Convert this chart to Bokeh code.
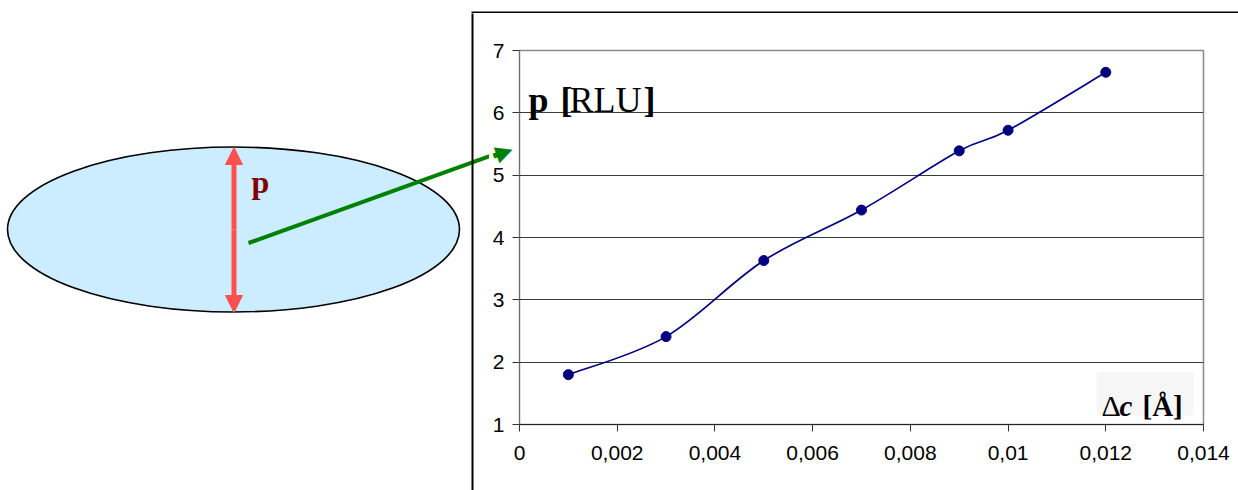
import numpy as np
from bokeh.plotting import figure
from bokeh.layouts import row, column
from bokeh.models import (Range1d, FixedTicker, CustomJSTickFormatter, Label,
                          BoxAnnotation, Arrow, NormalHead)
from bokeh.embed import file_html
from bokeh.resources import INLINE

# measured lattice change and resulting peak shift
dc = [0.001, 0.003, 0.005, 0.007, 0.009, 0.010, 0.012]
p_rlu = [1.80, 2.41, 3.63, 4.44, 5.39, 5.72, 6.65]

x_ticks = [0, 0.002, 0.004, 0.006, 0.008, 0.010, 0.012, 0.014]
y_ticks = [1, 2, 3, 4, 5, 6, 7]

W, H = 1238, 490
STRIP = 13          # height of the strip carrying the top edge of the chart box
SPLIT = 489         # x where the sketch panel ends and the chart panel starts
FL, FR, FT, FB = 519, 1203, 50, 424  # chart frame edges on the page
XMIN, XMAX, YMIN, YMAX = 0.0, 0.014, 1.0, 7.0

GREEN, RED = "#008000", "#FF5050"
ARROW_START, ARROW_TIP = (248.0, 242.5), (512.0, 147.3)


def px2x(px):
    return XMIN + (np.asarray(px, dtype=float) - FL) / (FR - FL) * (XMAX - XMIN)


def py2y(py):
    return YMIN + (FB - np.asarray(py, dtype=float)) / (FB - FT) * (YMAX - YMIN)


def bare(width, height, x_range, y_range):
    f = figure(width=width, height=height, output_backend="svg",
               toolbar_location=None, title=None, x_range=x_range, y_range=y_range,
               x_axis_location=None, y_axis_location=None,
               min_border=0, min_border_left=0, min_border_right=0,
               min_border_top=0, min_border_bottom=0, frame_align=False)
    f.grid.visible = False
    f.outline_line_color = None
    f.background_fill_color = "white"
    f.border_fill_color = "white"
    return f


# ---- top strip: upper edge of the chart box
strip = bare(W, STRIP, Range1d(0, W), Range1d(STRIP, 0))
strip.quad(left=[471], right=[W + 5], top=[11], bottom=[13],
           fill_color="black", line_color=None)

# ---- sketch of the crystal cross-section
sk = bare(SPLIT, H - STRIP, Range1d(0, SPLIT), Range1d(H, STRIP))
sk.ellipse(x=[233], y=[229], width=[452], height=[165],
           fill_color="#CCECFF", line_color="black", line_width=1.6)
sk.add_layout(Arrow(x_start=233.5, y_start=229, x_end=233.5, y_end=147,
                    line_color=RED, line_width=5,
                    end=NormalHead(size=17, fill_color=RED, line_color=RED)))
sk.add_layout(Arrow(x_start=233.5, y_start=229, x_end=233.5, y_end=312,
                    line_color=RED, line_width=5,
                    end=NormalHead(size=17, fill_color=RED, line_color=RED)))
sk.add_layout(Label(x=251, y=181, text="p", text_font="Liberation Serif",
                    text_font_size="32px", text_font_style="bold",
                    text_color="#800000", text_baseline="alphabetic"))
sk.segment(x0=[ARROW_START[0]], y0=[ARROW_START[1]],
           x1=[ARROW_TIP[0]], y1=[ARROW_TIP[1]], line_color=GREEN, line_width=4)
sk.segment(x0=[472], y0=[STRIP - 1], x1=[472], y1=[H + 5],
           line_color="black", line_width=2)

# ---- the chart
p = figure(width=W - SPLIT, height=H - STRIP, output_backend="svg",
           toolbar_location=None, title=None, frame_align=False,
           x_range=Range1d(XMIN, XMAX), y_range=Range1d(YMIN, YMAX),
           min_border_left=FL - SPLIT, min_border_right=W - FR,
           min_border_top=FT - STRIP, min_border_bottom=H - FB)
p.background_fill_color = "white"
p.border_fill_color = "white"
p.outline_line_color = "#8a8a8a"
p.outline_line_width = 1.5

p.xaxis.ticker = FixedTicker(ticks=x_ticks)
p.yaxis.ticker = FixedTicker(ticks=y_ticks)
p.xaxis.formatter = CustomJSTickFormatter(
    code="return tick.toFixed(3).replace(/\\.?0+$/, '').replace('.', ',');")
for ax in (p.xaxis, p.yaxis):
    ax.major_label_text_font = "Liberation Sans"
    ax.major_label_text_font_size = "21px"
    ax.major_label_text_color = "black"
    ax.major_tick_out = 7
    ax.major_tick_in = 0
    ax.minor_tick_line_color = None
    ax.major_tick_line_color = "#333333"
p.xaxis.axis_line_color = "#222222"
p.xaxis.major_label_standoff = 14
p.yaxis.axis_line_color = "#707070"
p.yaxis.major_label_standoff = 8
p.xgrid.grid_line_color = None
p.ygrid.ticker = FixedTicker(ticks=y_ticks)
p.ygrid.grid_line_color = "#3a3a3a"
p.ygrid.grid_line_width = 1

# smooth connecting curve (cubic Bezier segments through the points)
xs = np.array(dc)
ys = np.array(p_rlu)
n = len(xs)
x0, y0, x1, y1, cx0, cy0, cx1, cy1 = ([] for _ in range(8))
for i in range(n - 1):
    pm = max(i - 1, 0)
    pn = min(i + 2, n - 1)
    x0.append(xs[i]); y0.append(ys[i])
    x1.append(xs[i + 1]); y1.append(ys[i + 1])
    cx0.append(xs[i] + (xs[i + 1] - xs[pm]) / 6)
    cy0.append(ys[i] + (ys[i + 1] - ys[pm]) / 6)
    cx1.append(xs[i + 1] - (xs[pn] - xs[i]) / 6)
    cy1.append(ys[i + 1] - (ys[pn] - ys[i]) / 6)
p.bezier(x0=x0, y0=y0, x1=x1, y1=y1, cx0=cx0, cy0=cy0, cx1=cx1, cy1=cy1,
         line_color="#000080", line_width=1.7)
p.scatter(dc, p_rlu, size=10, marker="circle", fill_color="#000080",
          line_color="#000080")


def label(text, px, py, size, style="normal", color="black",
          font="Liberation Serif", place="center", align="left",
          baseline="alphabetic", angle=0.0):
    lab = Label(x=float(px2x(px)), y=float(py2y(py)), text=text,
                text_font=font, text_font_size=size,
                text_font_style=style, text_color=color, angle=angle,
                text_align=align, text_baseline=baseline)
    p.add_layout(lab, place)


# axis captions inside the plot
label("p", 528, 99, "36px", "bold")
label("[", 560, 99, "36px", "bold")
label("RLU", 569, 99, "36px")
label("]", 643, 99, "36px", "bold")

p.add_layout(BoxAnnotation(left=float(px2x(1096)), right=float(px2x(1193)),
                           top=float(py2y(372)), bottom=float(py2y(415)),
                           fill_color="#f6f6f6", fill_alpha=1, line_color=None))
label("\u0394", 1101, 405, "30px")
label("c", 1119, 405, "29px", "bold italic")
label("[\u00c5]", 1142, 405, "29px", "bold")

# head of the green pointer, which reaches into the chart's margin
d = np.array(ARROW_TIP) - np.array(ARROW_START)
d = d / np.linalg.norm(d)
ang = float(np.arctan2(-d[1], d[0]))
sx = SPLIT + 8.5
sy = ARROW_START[1] + d[1] / d[0] * (sx - ARROW_START[0])
label("\u25ac", sx, sy, "14px", color=GREEN, font="DejaVu Sans", place="below",
      align="center", baseline="middle", angle=ang)
hx, hy = np.array(ARROW_TIP) - d * 9
label("\u25b6", hx, hy, "22px", color=GREEN, font="DejaVu Sans", place="right",
      align="center", baseline="middle", angle=ang)

open("out.html", "w").write(file_html(column(strip, row(sk, p)), INLINE))
